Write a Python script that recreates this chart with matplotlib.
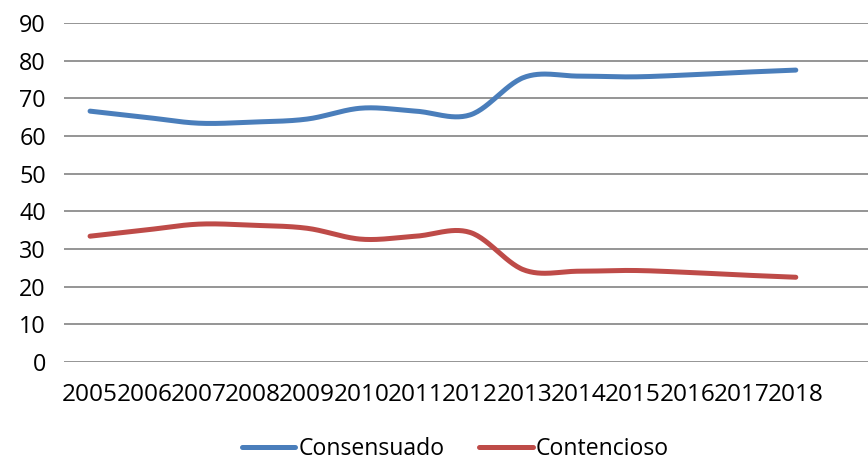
import numpy as np
import matplotlib
matplotlib.use("Agg")
import matplotlib.pyplot as plt

# data
years = [2005, 2006, 2007, 2008, 2009, 2010, 2011, 2012, 2013, 2014, 2015, 2016, 2017, 2018]
consensuado = [66.6, 65.0, 63.4, 63.7, 64.5, 67.4, 66.6, 65.6, 75.6, 75.9, 75.7, 76.2, 76.9, 77.5]
contencioso = [33.4, 35.0, 36.6, 36.3, 35.5, 32.6, 33.4, 34.4, 24.4, 24.1, 24.3, 23.8, 23.1, 22.5]
y_ticks = [0, 10, 20, 30, 40, 50, 60, 70, 80, 90]

plt.rcParams['font.family'] = ['Open Sans', 'DejaVu Sans']


def smooth(x, y, n=30):
    # Excel-like smoothed line (Catmull-Rom bezier between the points)
    x = np.asarray(x, float)
    y = np.asarray(y, float)
    px = np.concatenate([[x[0]], x, [x[-1]]])
    py = np.concatenate([[y[0]], y, [y[-1]]])
    xs, ys = [], []
    t = np.linspace(0, 1, n)
    for i in range(1, len(px) - 2):
        p0, p1, p2, p3 = (np.array([px[j], py[j]]) for j in (i - 1, i, i + 1, i + 2))
        c1 = p1 + (p2 - p0) / 6
        c2 = p2 - (p3 - p1) / 6
        pts = ((1 - t)[:, None] ** 3 * p1 + 3 * ((1 - t) ** 2 * t)[:, None] * c1
               + 3 * ((1 - t) * t ** 2)[:, None] * c2 + (t ** 3)[:, None] * p2)
        xs.extend(pts[:, 0])
        ys.extend(pts[:, 1])
    return np.array(xs), np.array(ys)


fig = plt.figure(figsize=(8.68, 4.61), dpi=100)
ax = fig.add_axes([64 / 868, 99 / 461, 1 - 64 / 868, 339 / 461])

idx = np.arange(len(years))
for vals, col, lab in [(consensuado, '#4A7EBB', 'Consensuado'),
                       (contencioso, '#BE4B48', 'Contencioso')]:
    sx, sy = smooth(idx, vals)
    ax.plot(sx, sy, color=col, lw=3.6, solid_capstyle='round', label=lab)

ax.set_ylim(0, 90)
ax.set_xlim(-0.48, 14.33)
ax.set_yticks(y_ticks)
ax.set_xticks(idx)
ax.set_xticklabels([str(y) for y in years])
ax.grid(axis='y', color='#8C8C8C', lw=1.3)
ax.set_axisbelow(True)
for s in ax.spines.values():
    s.set_visible(False)
ax.tick_params(axis='both', length=0, colors='black')
ax.tick_params(axis='y', pad=13, labelsize=16.8)
ax.tick_params(axis='x', pad=15, labelsize=17.6)

fig.legend(loc='center', bbox_to_anchor=(0.525, 0.026), ncol=2, frameon=False,
           fontsize=16.6, handlelength=2.3, handletextpad=0.15, columnspacing=1.5,
           borderpad=0.2)

fig.savefig('out.png', dpi=100)
